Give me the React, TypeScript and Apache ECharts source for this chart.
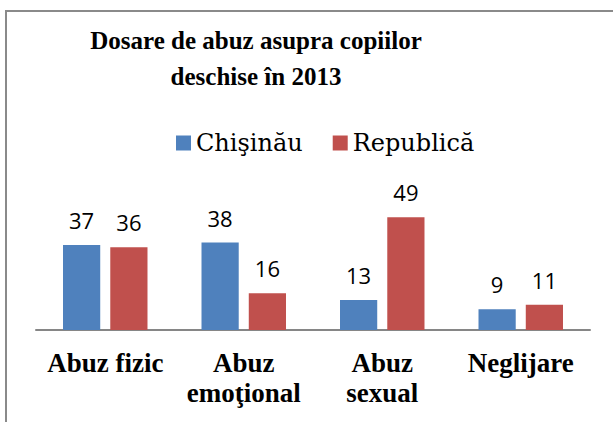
import React, { useEffect, useRef } from "react";
import * as echarts from "echarts";

const categories = ["Abuz fizic", "Abuz\nemoţional", "Abuz\nsexual", "Neglijare"];
const seriesNames = ["Chişinău", "Republică"];
const chisinau = [37, 38, 13, 9];
const republica = [36, 16, 49, 11];
const titleLines = "Dosare de abuz asupra copiilor\ndeschise în 2013";

const SERIF = "Liberation Serif";
const SERIF_REGULAR = "DejaVu Serif";

export default function App() {
  const ref = useRef<HTMLDivElement>(null);
  useEffect(() => {
    if (!ref.current) return;
    const chart = echarts.init(ref.current, undefined, { renderer: "svg" });
    const labelStyle = {
      show: true,
      position: "top" as const,
      distance: 14,
      fontFamily: "Open Sans",
      fontSize: 22,
      color: "#000",
    };
    const legendText = { fontFamily: SERIF_REGULAR, fontSize: 24, color: "#000" };
    chart.setOption({
      animation: false,
      backgroundColor: "#fff",
      title: {
        text: titleLines,
        left: 251,
        top: 17,
        textAlign: "center",
        textStyle: {
          fontFamily: SERIF,
          fontWeight: "bold",
          fontSize: 25,
          lineHeight: 36,
          color: "#000",
        },
      },
      legend: {
        left: 171,
        top: 126,
        itemWidth: 15,
        itemHeight: 15,
        itemGap: 30,
        icon: "rect",
        textStyle: legendText,
        data: seriesNames.map((n) => ({ name: n, textStyle: legendText })),
      },
      graphic: [
        {
          type: "rect",
          shape: { x: 6, y: 11, width: 700, height: 500 },
          style: { fill: "none", stroke: "#8a8a8a", lineWidth: 2 },
          silent: true,
        },
      ],
      grid: { left: 36, right: 23, top: 215, bottom: 92 },
      xAxis: {
        type: "category",
        data: categories,
        axisLine: { lineStyle: { color: "#868686", width: 2 } },
        axisTick: { show: false },
        axisLabel: {
          interval: 0,
          margin: 18,
          fontFamily: SERIF,
          fontWeight: "bold",
          fontSize: 27,
          lineHeight: 30,
          color: "#000",
        },
      },
      yAxis: {
        type: "value",
        min: 0,
        max: 50,
        show: false,
        splitLine: { show: false },
      },
      series: [
        {
          name: seriesNames[0],
          type: "bar",
          data: chisinau,
          itemStyle: { color: "#4F81BD" },
          barGap: "27%",
          barCategoryGap: "39%",
          label: labelStyle,
        },
        {
          name: seriesNames[1],
          type: "bar",
          data: republica,
          itemStyle: { color: "#C0504D" },
          label: labelStyle,
        },
      ],
    });
    return () => chart.dispose();
  }, []);
  return (
    <div
      ref={ref}
      style={{ position: "fixed", left: 0, top: 0, width: 613, height: 422 }}
    />
  );
}
